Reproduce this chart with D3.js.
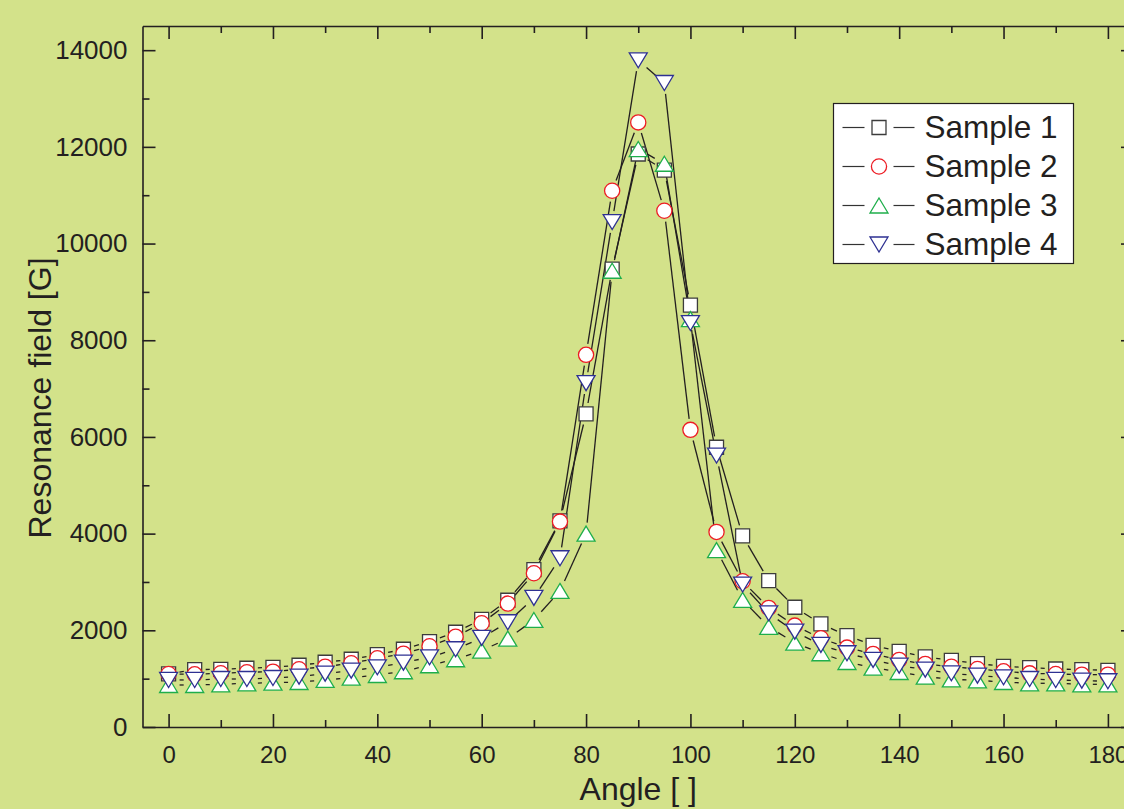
<!DOCTYPE html>
<html>
<head>
<meta charset="utf-8">
<script src="https://cdn.jsdelivr.net/npm/d3@7"></script>
<style>
  body { margin: 0; background: #d3e28a; }
  svg { display: block; }
  text { font-family: "Liberation Sans", Arial, sans-serif; fill: #231f20; }
</style>
</head>
<body>
<div id="main"></div>
<script>
const angles = [0, 5, 10, 15, 20, 25, 30, 35, 40, 45, 50, 55, 60, 65, 70, 75, 80, 85, 90,
                95, 100, 105, 110, 115, 120, 125, 130, 135, 140, 145, 150, 155, 160, 165, 170, 175, 180]
const sample1 = [1100, 1186, 1194, 1215, 1235, 1277, 1339, 1401, 1496, 1608, 1766, 1960, 2225, 2622, 3256, 4263, 6478, 9472, 11852,
                 11520, 8727, 5787, 3953, 3028, 2477, 2132, 1890, 1690, 1566, 1449, 1380, 1311, 1256, 1228, 1200, 1187, 1173]
const sample2 = [1097, 1090, 1111, 1132, 1145, 1194, 1248, 1318, 1422, 1517, 1670, 1869, 2146, 2552, 3180, 4249, 7699, 11093, 12506,
                 10679, 6146, 4035, 3015, 2463, 2097, 1835, 1642, 1511, 1387, 1304, 1248, 1200, 1152, 1110, 1097, 1083, 1083]
const sample3 = [869, 869, 883, 904, 917, 931, 973, 1020, 1076, 1153, 1277, 1401, 1580, 1828, 2214, 2815, 4001, 9437, 11955,
                 11651, 8437, 3660, 2628, 2070, 1745, 1525, 1345, 1228, 1138, 1042, 986, 966, 931, 904, 904, 883, 883]
const sample4 = [973, 973, 993, 993, 1014, 1042, 1103, 1165, 1235, 1331, 1442, 1608, 1842, 2167, 2670, 3491, 7113, 10445, 13790,
                 13321, 8355, 5615, 2946, 2352, 1973, 1697, 1525, 1387, 1269, 1187, 1110, 1062, 1028, 993, 973, 959, 946]
const seriesNames = ["Sample 1", "Sample 2", "Sample 3", "Sample 4"]
const xMajor = [0, 20, 40, 60, 80, 100, 120, 140, 160, 180]
const xMinor = [10, 30, 50, 70, 90, 110, 130, 150, 170]
const yMajor = [0, 2000, 4000, 6000, 8000, 10000, 12000, 14000]
const yMinor = [1000, 3000, 5000, 7000, 9000, 11000, 13000]

const markerColors = ["#3c3c3c", "#ed1c24", "#1fae4b", "#2e3192"]
const markerKinds = ["square", "circle", "up", "down"]

const W = 1124, H = 809
const plotL = 142.5, plotR = 1134, plotT = 26, plotB = 727

const x = d3.scaleLinear().domain([-5, 185]).range([plotL, plotR])
const y = d3.scaleLinear().domain([0, 14500]).range([plotB, plotT])

const svg = d3.select('div#main').append('svg')
  .attr('width', W)
  .attr('height', H)

svg.append('rect').attr('width', W).attr('height', H).attr('fill', '#d3e28a')

function markerPath(kind) {
  if (kind === 'square') return 'M-7,-7H7V7H-7Z'
  if (kind === 'circle') return d3.symbol(d3.symbolCircle, Math.PI * 7.6 * 7.6)()
  if (kind === 'up') return 'M0,-7.5L9,7.5L-9,7.5Z'
  return 'M-9,-7.5L9,-7.5L0,7.5Z'
}

function styleAxis(g) {
  g.select('.domain').attr('stroke', '#231f20').attr('stroke-width', 1.6)
  g.selectAll('.tick line').attr('stroke', '#231f20').attr('stroke-width', 1.6)
  g.selectAll('text').attr('fill', '#231f20')
}

// major / minor axes, ticks pointing in
const axes = [
  {fn: d3.axisBottom, sc: x, t: `translate(0,${plotB})`, major: xMajor, minor: xMinor, labels: true},
  {fn: d3.axisTop, sc: x, t: `translate(0,${plotT})`, major: xMajor, minor: xMinor, labels: false},
  {fn: d3.axisLeft, sc: y, t: `translate(${plotL},0)`, major: yMajor, minor: yMinor, labels: true},
  {fn: d3.axisRight, sc: y, t: `translate(${plotR},0)`, major: yMajor, minor: yMinor, labels: false}
]
axes.forEach((a) => {
  let maj = svg.append('g').attr('transform', a.t)
    .call(a.fn(a.sc).tickValues(a.major).tickSizeInner(-13).tickSizeOuter(0)
      .tickPadding(a.fn === d3.axisBottom ? 19 : 15)
      .tickFormat(a.labels ? d3.format('d') : ''))
  maj.selectAll('text').attr('font-size', a.fn === d3.axisBottom ? 24 : 26)
    .attr('font-family', '"Liberation Sans", Arial, sans-serif')
  styleAxis(maj)
  let mnr = svg.append('g').attr('transform', a.t)
    .call(a.fn(a.sc).tickValues(a.minor).tickSizeInner(-7).tickSizeOuter(0).tickFormat(''))
  mnr.select('.domain').remove()
  styleAxis(mnr)
})

// axis titles
svg.append('text')
  .attr('x', x(90)).attr('y', 800)
  .attr('text-anchor', 'middle')
  .attr('font-size', 32)
  .text('Angle [ ]')

svg.append('text')
  .attr('transform', 'translate(51,398) rotate(-90)')
  .attr('text-anchor', 'middle')
  .attr('font-size', 32)
  .text('Resonance field [G]')

// series
const allSeries = [sample1, sample2, sample3, sample4]
const gap = 11

allSeries.forEach((vals, i) => {
  let pts = angles.map((a, j) => ({px: x(a), py: y(vals[j])}))
  let lineGroup = svg.append('g')
    .attr('stroke', '#231f20')
    .attr('stroke-width', 1.3)
  for (let j = 0; j < pts.length - 1; j++) {
    let p0 = pts[j], p1 = pts[j + 1]
    let dx = p1.px - p0.px, dy = p1.py - p0.py
    let len = Math.hypot(dx, dy)
    if (len <= 2 * gap) continue
    let ux = dx / len, uy = dy / len
    lineGroup.append('line')
      .attr('x1', p0.px + ux * gap).attr('y1', p0.py + uy * gap)
      .attr('x2', p1.px - ux * gap).attr('y2', p1.py - uy * gap)
  }
})

allSeries.forEach((vals, i) => {
  svg.append('g').selectAll(`path.grp${i}`)
    .data(angles.map((a, j) => ({a: a, v: vals[j]})))
    .enter()
    .append('path')
      .attr('class', `grp${i}`)
      .attr('d', markerPath(markerKinds[i]))
      .attr('transform', (d) => `translate(${x(d.a)},${y(d.v)})`)
      .attr('fill', 'white')
      .attr('stroke', markerColors[i])
      .attr('stroke-width', 1.3)
})

// legend
const legend = svg.append('g').attr('transform', 'translate(833.5,103.5)')
legend.append('rect')
  .attr('width', 240).attr('height', 160)
  .attr('fill', 'white')
  .attr('stroke', '#231f20')
  .attr('stroke-width', 1.2)

seriesNames.forEach((name, i) => {
  let row = legend.append('g').attr('transform', `translate(0,${24 + i * 39})`)
  row.append('line').attr('x1', 9).attr('x2', 31).attr('y1', 0).attr('y2', 0)
    .attr('stroke', '#333').attr('stroke-width', 1.2)
  row.append('line').attr('x1', 60).attr('x2', 81).attr('y1', 0).attr('y2', 0)
    .attr('stroke', '#333').attr('stroke-width', 1.2)
  row.append('path')
    .attr('d', markerPath(markerKinds[i]))
    .attr('transform', 'translate(45.5,0)')
    .attr('fill', 'white')
    .attr('stroke', markerColors[i])
    .attr('stroke-width', 1.3)
  row.append('text')
    .attr('x', 91).attr('y', 10.5)
    .attr('font-size', 31.5)
    .text(name)
})
</script>
</body>
</html>
